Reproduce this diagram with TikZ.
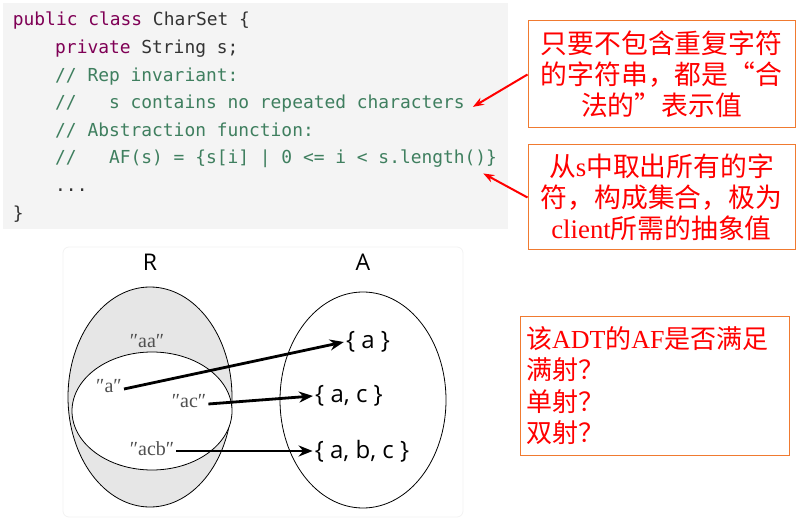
\documentclass[tikz,border=0pt]{standalone}
\usepackage{fontspec}
\setmainfont{Liberation Serif}
\setsansfont{Open Sans}
\setmonofont{DejaVu Sans Mono}
\newfontfamily\cjk{Noto Sans CJK SC}
\newfontfamily\lat{Liberation Serif}
\usetikzlibrary{arrows.meta,positioning,calc}

\definecolor{codebg}{HTML}{F4F4F4}
\definecolor{kwcol}{HTML}{7F0055}
\definecolor{cmtcol}{HTML}{3F7F5F}
\definecolor{txtcol}{HTML}{333333}
\definecolor{boxline}{HTML}{F07A30}
\definecolor{setgray}{HTML}{E6E6E6}
\definecolor{strcol}{HTML}{505050}

\tikzset{
  codeline/.style={anchor=base west, inner sep=0pt, font=\ttfamily\fontsize{17.9}{20}\selectfont, text=txtcol},
  notebox/.style={draw=boxline, line width=1pt, text=red, inner sep=6pt},
  notearrow/.style={red, line width=2pt, -{Stealth[length=11pt,width=8pt]}},
  maparrow/.style={line width=2.8pt, -{Stealth[length=14pt,width=11pt]}},
  strlabel/.style={inner sep=2pt, text=strcol, font=\fontsize{20}{22}\selectfont},
  setlabel/.style={inner sep=2pt, font=\sffamily\fontsize{24}{26}\selectfont},
}

\begin{document}
\begin{tikzpicture}[x=1pt, y=-1pt]
    \useasboundingbox (0,0) rectangle (808,521);

    % Code panel
    \fill[codebg] (3,3) rectangle (508,229);
    \node[codeline] (l1) at (12.7,26)    {\textcolor{kwcol}{public class} CharSet \{};
    \node[codeline] (l2) at (55,53.6)    {\textcolor{kwcol}{private} String s;};
    \node[codeline, text=cmtcol] (l3) at (55,81.2)  {// Rep invariant:};
    \node[codeline, text=cmtcol] (l4) at (55,108.8) {//~~~s contains no repeated characters};
    \node[codeline, text=cmtcol] (l5) at (55,136.4) {// Abstraction function:};
    \node[codeline, text=cmtcol] (l6) at (55,164)   {//~~~AF(s) = \{s[i] | 0 <= i < s.length()\}};
    \node[codeline] (l7) at (55,191.6)   {...};
    \node[codeline] (l8) at (12.7,219.2) {\}};

    % Notes on the right
    \node[notebox, minimum width=267pt, minimum height=107pt, align=center,
          font=\cjk\fontsize{26.8}{31}\selectfont] (rinv) at (661.5,74.5)
        {只要不包含重复字符\\的字符串，都是“合\\法的”表示值};
    \node[notebox, minimum width=267pt, minimum height=105pt, align=center,
          font=\cjk\fontsize{26.8}{31}\selectfont] (afun) at (661.5,197.5)
        {从{\lat s}中取出所有的字\\符，构成集合，极为\\{\lat client}所需的抽象值};
    \node[notebox, minimum height=139pt, text width=257pt, align=left,
          font=\cjk\fontsize{26}{31.5}\selectfont] (quest) at (654.5,385.5)
        {该{\lat ADT}的{\lat AF}是否满足\\满射？\\单射？\\双射？};

    \draw[notearrow] (rinv.west) -- ([xshift=8pt,yshift=-3pt]l4.east);
    \draw[notearrow] (afun.west) -- ([xshift=-14pt,yshift=-5pt]l6.south east);

    % Mapping diagram
    \draw[gray!10, line width=0.8pt, rounded corners=6pt] (63,247) rectangle (463,517);
    \node[font=\sffamily\fontsize{23}{25}\selectfont] (rlab) at (150,262) {R};
    \node[font=\sffamily\fontsize{23}{25}\selectfont] (alab) at (363,262) {A};

    \draw[fill=setgray, line width=0.8pt] (150,397) ellipse [x radius=82pt, y radius=110pt];
    \draw[fill=white, line width=0.8pt] (152,411) ellipse [x radius=80pt, y radius=59pt];
    \draw[line width=0.8pt] (363,400) ellipse [x radius=83pt, y radius=108pt];

    \node[strlabel] (saa)  at (147,341) {″aa″};
    \node[strlabel] (sa)   at (109,386) {″a″};
    \node[strlabel] (sac)  at (189,401) {″ac″};
    \node[strlabel] (sacb) at (152,449) {″acb″};

    \node[setlabel] (ta)   at (368,342) {\{ a \}};
    \node[setlabel] (tac)  at (349,396) {\{ a, c \}};
    \node[setlabel] (tacb) at (362,451) {\{ a, b, c \}};

    \draw[maparrow] ([yshift=-3pt]sa.east) -- (ta.west);
    \draw[maparrow] ([yshift=-3pt]sac.east) -- (tac.west);
    \draw[maparrow] ([yshift=-2pt]sacb.east) -- (tacb.west);

\end{tikzpicture}
\end{document}
